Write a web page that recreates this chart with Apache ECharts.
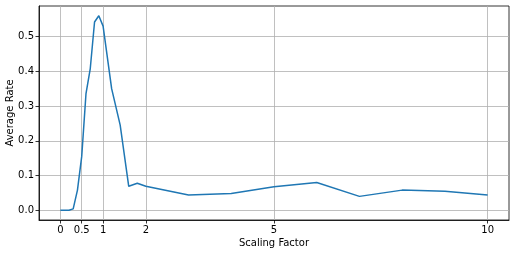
<!DOCTYPE html>
<html><head><meta charset="utf-8">
<script src="https://cdn.jsdelivr.net/npm/echarts@6/dist/echarts.min.js"></script>
<style>html,body{margin:0;padding:0;background:#fff}#c{width:516px;height:254px}</style>
</head><body><div id="c"></div>
<script>
const scalingFactors = [0, 0.1, 0.2, 0.3, 0.4, 0.5, 0.6, 0.7, 0.8, 0.9, 1.0, 1.2, 1.4, 1.6, 1.8, 2, 3, 4, 5, 6, 7, 8, 9, 10];
const averageRates  = [0, 0, 0, 0.004, 0.058, 0.155, 0.336, 0.408, 0.542, 0.56, 0.53, 0.35, 0.245, 0.069, 0.078, 0.069, 0.044, 0.048, 0.068, 0.08, 0.04, 0.058, 0.055, 0.044];
const xTicks = [0, 0.5, 1, 2, 5, 10];
const yTicks = [0, 0.1, 0.2, 0.3, 0.4, 0.5];

const font = 'DejaVu Sans';
const chart = echarts.init(document.getElementById('c'), null, {renderer: 'canvas'});
chart.setOption({
  animation: false,
  grid: {left: 39, right: 7, top: 6, bottom: 34, containLabel: false, outerBoundsMode: 'none', show: true, borderColor: '#000', borderWidth: 0.8},
  xAxis: {
    type: 'value', min: -0.5, max: 10.5,
    name: 'Scaling Factor', nameLocation: 'middle', nameGap: 18, nameMoveOverlap: false,
    nameTextStyle: {fontFamily: font, fontSize: 10, color: '#000'},
    axisLine: {onZero: false, lineStyle: {color: '#000', width: 0.8}},
    axisTick: {show: true, length: 3.5, lineStyle: {color: '#000', width: 0.8}, customValues: xTicks},
    axisLabel: {fontFamily: font, fontSize: 10, color: '#000', margin: 5, customValues: xTicks, formatter: v => String(v)},
    splitLine: {show: true, lineStyle: {color: '#b0b0b0', width: 0.8}}
  },
  yAxis: {
    type: 'value', min: -0.028, max: 0.588,
    name: 'Average Rate', nameLocation: 'middle', nameGap: 24, nameMoveOverlap: false,
    nameTextStyle: {fontFamily: font, fontSize: 10, color: '#000'},
    axisLine: {show: true, onZero: false, lineStyle: {color: '#000', width: 0.8}},
    axisTick: {show: true, length: 3.5, lineStyle: {color: '#000', width: 0.8}, customValues: yTicks},
    axisLabel: {fontFamily: font, fontSize: 10, color: '#000', margin: 5, customValues: yTicks, formatter: v => v.toFixed(1)},
    splitLine: {show: true, lineStyle: {color: '#b0b0b0', width: 0.8}}
  },
  series: [{
    type: 'line', data: scalingFactors.map((x, i) => [x, averageRates[i]]),
    showSymbol: false, lineStyle: {color: '#1f77b4', width: 1.5}, itemStyle: {color: '#1f77b4'}
  }]
});
</script></body></html>
